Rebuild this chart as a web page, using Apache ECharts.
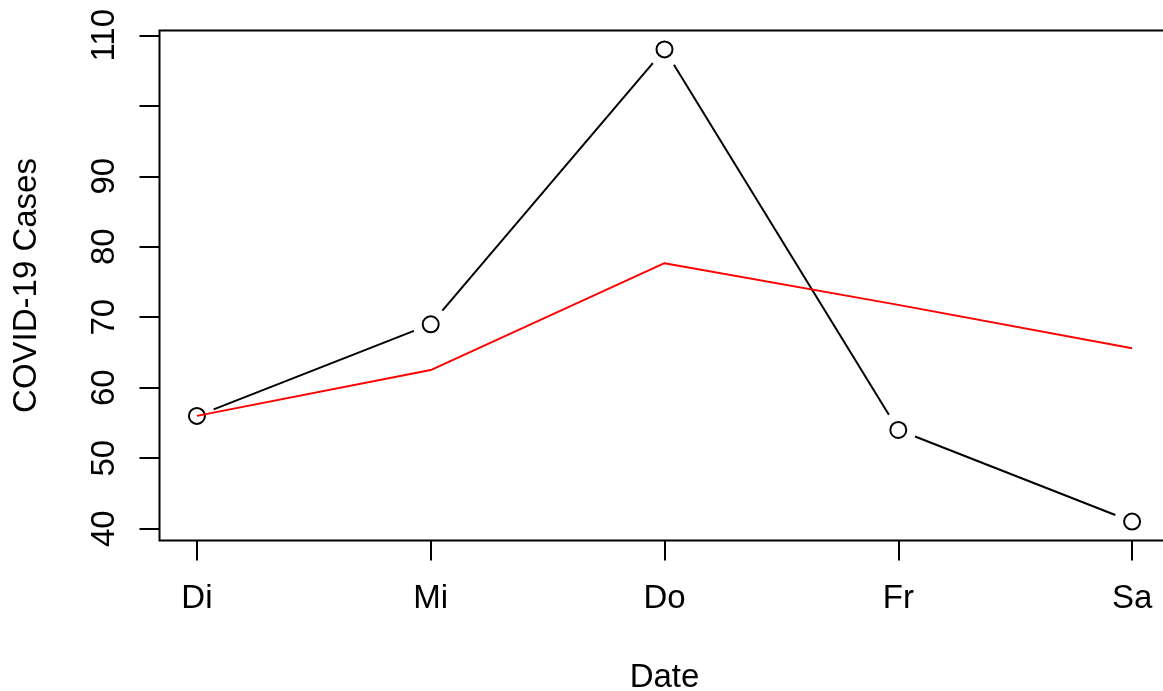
<!DOCTYPE html>
<html>
<head>
<meta charset="utf-8">
<script src="https://cdn.jsdelivr.net/npm/echarts@6/dist/echarts.min.js"></script>
<style>
html,body{margin:0;padding:0;background:#fff;}
#chart{width:1163px;height:691px;}
</style>
</head>
<body>
<div id="chart"></div>
<script>
const days = ['Di', 'Mi', 'Do', 'Fr', 'Sa'];
const dayPos = [1, 2, 3, 4, 5];
const cases = [56, 69, 108, 54, 41];
const meanCases = [56, 62.5, 77.67, 71.75, 65.6];
const yTicks = [40, 50, 60, 70, 80, 90, 100, 110];
const yLabels = [40, 50, 60, 70, 80, 90, 110];

const FONT = 'Liberation Sans';
const FS = 33;
const GAP = 18; // gap between point centre and line end (type "b")

// segments between consecutive points
const segments = [];
for (let i = 0; i < dayPos.length - 1; i++) {
  segments.push([dayPos[i], cases[i], dayPos[i + 1], cases[i + 1]]);
}

const chart = echarts.init(document.getElementById('chart'), null, {renderer: 'canvas'});

chart.setOption({
  backgroundColor: '#fff',
  animation: false,
  grid: {
    left: 159.5, top: 30.5, right: -6.5, bottom: 150.5,
    outerBoundsMode: 'none', containLabel: false,
    show: true, borderColor: '#000', borderWidth: 2, backgroundColor: 'transparent'
  },
  xAxis: {
    type: 'value', min: 0.84, max: 5.16,
    name: 'Date', nameLocation: 'middle', nameGap: 121,
    nameTextStyle: {fontFamily: FONT, fontSize: FS, color: '#000'},
    axisLine: {show: false},
    splitLine: {show: false},
    axisTick: {show: true, customValues: dayPos, length: 20, lineStyle: {color: '#000', width: 2}},
    axisLabel: {
      customValues: dayPos, margin: 42, fontFamily: FONT, fontSize: FS, color: '#000',
      formatter: v => days[Math.round(v) - 1]
    }
  },
  yAxis: {
    type: 'value', min: 38.32, max: 110.68,
    name: 'COVID-19 Cases', nameLocation: 'middle', nameGap: 116, nameRotate: 90,
    nameTextStyle: {fontFamily: FONT, fontSize: FS, color: '#000'},
    axisLine: {show: false},
    splitLine: {show: false},
    axisTick: {show: true, customValues: yTicks, length: 20, lineStyle: {color: '#000', width: 2}},
    axisLabel: {
      customValues: yLabels, rotate: 90, margin: 38.5, fontFamily: FONT, fontSize: FS, color: '#000'
    }
  },
  series: [
    {
      type: 'custom',
      data: segments,
      encode: {x: [0, 2], y: [1, 3]},
      renderItem: function (params, api) {
        const p0 = api.coord([api.value(0), api.value(1)]);
        const p1 = api.coord([api.value(2), api.value(3)]);
        const dx = p1[0] - p0[0], dy = p1[1] - p0[1];
        const len = Math.sqrt(dx * dx + dy * dy);
        const ux = dx / len, uy = dy / len;
        return {
          type: 'line',
          shape: {
            x1: p0[0] + ux * GAP, y1: p0[1] + uy * GAP,
            x2: p1[0] - ux * GAP, y2: p1[1] - uy * GAP
          },
          style: {stroke: '#000', lineWidth: 2}
        };
      },
      silent: true
    },
    {
      type: 'scatter',
      data: dayPos.map((x, i) => [x, cases[i]]),
      symbol: 'emptyCircle', symbolSize: 16,
      itemStyle: {color: '#000', borderColor: '#000', borderWidth: 2, opacity: 1},
      emphasis: {disabled: true},
      silent: true
    },
    {
      type: 'line',
      data: dayPos.map((x, i) => [x, meanCases[i]]),
      symbol: 'none',
      lineStyle: {color: '#ff0000', width: 2},
      emphasis: {disabled: true},
      silent: true
    }
  ]
});
</script>
</body>
</html>
